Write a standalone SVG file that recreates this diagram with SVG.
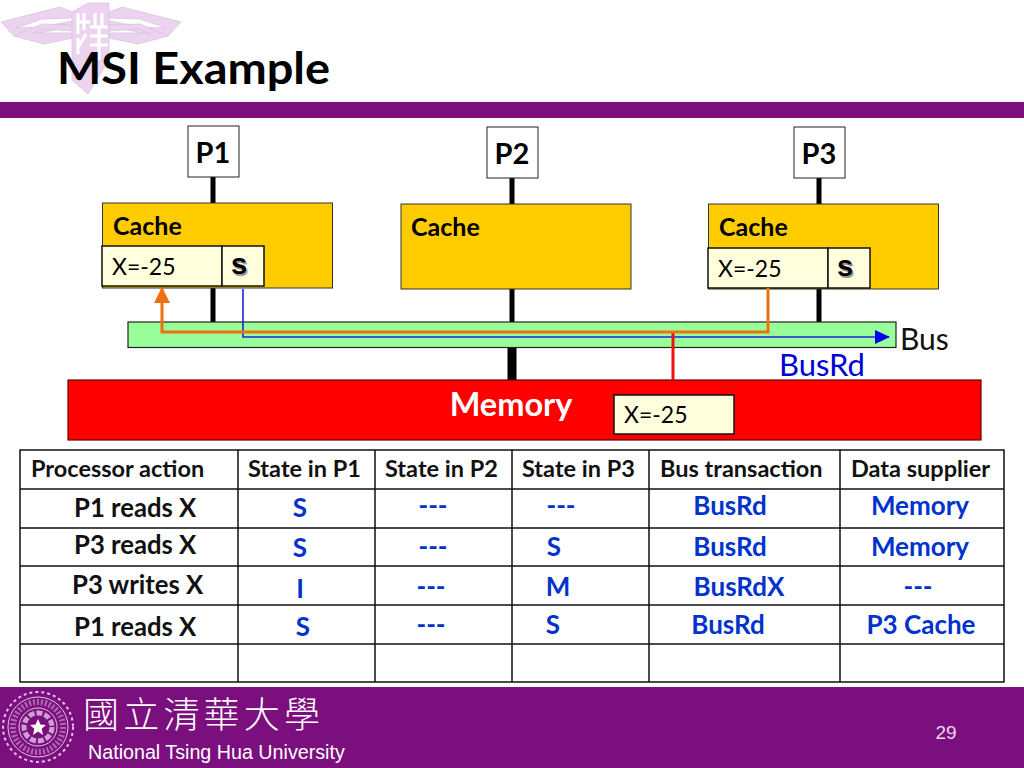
<svg xmlns="http://www.w3.org/2000/svg" width="1024" height="768" viewBox="0 0 1024 768">
<style>
text{font-family:"Lato","Liberation Sans",sans-serif}
.cache{fill:#ffcc00;stroke:#333;stroke-width:1}
.cell{fill:#ffffdd;stroke:#111;stroke-width:1.5}
.p{fill:#fff;stroke:#222;stroke-width:1}
.nm{font-size:29px;font-weight:700;fill:#000}
.ch{font-size:25px;font-weight:700;fill:#000}
.x{font-size:23px;fill:#000}
.s{font-size:29px;font-weight:700;fill:#000;font-family:"Liberation Sans",sans-serif;text-anchor:middle}
.sh{fill:#999}
.h{font-size:23.500px;font-weight:700;fill:#111}
.t{font-size:25.700px;font-weight:700;fill:#111}
.u{font-size:26px;font-weight:700;fill:#0033cc;text-anchor:middle}
.bar{stroke:#000;stroke-width:5;fill:none}
.grid{stroke:#111;stroke-width:1.5;fill:none}
</style>
<defs>
<marker id="mb" markerUnits="userSpaceOnUse" markerWidth="15" markerHeight="14" refX="14" refY="7" orient="auto"><path d="M0 0L15 7L0 14Z" fill="#0000ee"/></marker>
<marker id="mo" markerUnits="userSpaceOnUse" markerWidth="16" markerHeight="16" refX="15" refY="8" orient="auto"><path d="M0 0L16 8L0 16Z" fill="#f07010"/></marker>
</defs>
<rect width="1024" height="768" fill="#fff"/>
<g id="logo" fill="#ecd4f0" stroke="#d9c3dd" stroke-width="0.8">
<path d="M1 22L60 7L73 12V18L42 19L16 28L40 27L73 21V26L40 33L14 36Z"/>
<path d="M181 22L122 7L109 12V18L140 19L166 28L142 27L109 21V26L142 33L168 36Z"/>
<path d="M14 36L42 24L73 25V31L44 29L32 33L73 33V38L44 44Z"/>
<path d="M168 36L140 24L109 25V31L138 29L150 33L109 33V38L138 44Z"/>
<path d="M72 12L88 3H109V58L104 68L88 94L72 80Z"/>
<path d="M78 13V34M84 13V30M78 22H90M95 13V26M102 13V26M90 27H108M90 36H108M78 38V54M86 34L78 48M90 45H108M99 27V60" stroke="#fff" stroke-width="3" fill="none"/>
</g>
<text id="title" x="57" y="84" font-size="44" font-weight="700" fill="#000" textLength="273" lengthAdjust="spacingAndGlyphs">MSI Example</text>
<rect id="topband" x="0" y="102" width="1024" height="16" fill="#7b0f7e"/>
<g id="connectors">
<path class="bar" d="M213 177V203M512 178V204M819 178V204M213 288V322M512 289V322M819 289V322"/>
<path d="M512 347V380" stroke="#000" stroke-width="9" fill="none"/>
</g>
<g id="P1"><rect class="p" x="188" y="126" width="51" height="51"/><text class="nm" x="213" y="163" text-anchor="middle">P1</text></g>
<g id="P2"><rect class="p" x="487" y="127" width="51" height="51"/><text class="nm" x="512" y="164" text-anchor="middle">P2</text></g>
<g id="P3"><rect class="p" x="794" y="127" width="51" height="51"/><text class="nm" x="819" y="164" text-anchor="middle">P3</text></g>
<g id="cache1"><rect class="cache" x="102.500" y="203" width="230" height="85"/><text class="ch" x="113" y="235">Cache</text>
<rect class="cell" x="102" y="246" width="120" height="40"/><rect class="cell" x="222" y="246" width="42" height="40"/>
<text class="x" x="112" y="275">X=-25</text><text class="s sh" x="240.500" y="275.500">s</text><text class="s" x="239" y="274">s</text></g>
<g id="cache2"><rect class="cache" x="401" y="204" width="230" height="85"/><text class="ch" x="411" y="236">Cache</text></g>
<g id="cache3"><rect class="cache" x="708.500" y="204" width="230" height="85"/><text class="ch" x="719" y="236">Cache</text>
<rect class="cell" x="708" y="248" width="120" height="40"/><rect class="cell" x="828" y="248" width="42" height="40"/>
<text class="x" x="718" y="277">X=-25</text><text class="s sh" x="846.500" y="277.500">s</text><text class="s" x="845" y="276">s</text></g>
<g id="bus"><rect x="128" y="322" width="768" height="25.500" fill="#99ff99" stroke="#222" stroke-width="1.2"/>
<text x="900" y="350" font-size="30" fill="#111">Bus</text></g>
<g id="memory"><rect x="68" y="380" width="913" height="60" fill="#ff0000" stroke="#660000" stroke-width="1.2"/>
<text x="511" y="416" font-size="32.500" font-weight="700" fill="#fff" text-anchor="middle">Memory</text>
<rect class="cell" x="614" y="395" width="120" height="39"/><text class="x" x="624" y="423">X=-25</text></g>
<g id="signals">
<path d="M243 289V337H889" stroke="#2222dd" stroke-width="1.6" fill="none" marker-end="url(#mb)"/>
<path d="M673 333V380" stroke="#ee1111" stroke-width="3" fill="none"/>
<path d="M768 288V332H162V288" stroke="#f07010" stroke-width="3" fill="none" marker-end="url(#mo)"/>
<text x="779" y="376" font-size="31" fill="#0000dd">BusRd</text>
</g>
<g id="table">
<path class="grid" d="M20 450H1004V682H20ZM20 489H1004M20 528H1004M20 566H1004M20 605H1004M20 644H1004M238 450V682M375 450V682M512 450V682M649 450V682M840 450V682"/>
<text class="h" x="31" y="477">Processor action</text>
<text class="h" x="248" y="477">State in P1</text>
<text class="h" x="385" y="477">State in P2</text>
<text class="h" x="522" y="477">State in P3</text>
<text class="h" x="660" y="477">Bus transaction</text>
<text class="h" x="851" y="477">Data supplier</text>
<text class="t" x="74" y="516.500">P1 reads X</text>
<text class="t" x="74" y="553.500">P3 reads X</text>
<text class="t" x="72" y="593.500">P3 writes X</text>
<text class="t" x="74" y="635.500">P1 reads X</text>
<text class="u" x="300" y="517">S</text><text class="u" x="433" y="515">---</text><text class="u" x="561" y="515">---</text><text class="u" x="730" y="515">BusRd</text><text class="u" x="920" y="515">Memory</text>
<text class="u" x="300" y="557">S</text><text class="u" x="433" y="556">---</text><text class="u" x="554" y="556">S</text><text class="u" x="730" y="556">BusRd</text><text class="u" x="920" y="556">Memory</text>
<text class="u" x="300" y="598">I</text><text class="u" x="431" y="596">---</text><text class="u" x="558" y="596">M</text><text class="u" x="739" y="596">BusRdX</text><text class="u" x="918" y="596">---</text>
<text class="u" x="303" y="636">S</text><text class="u" x="431" y="634">---</text><text class="u" x="553" y="634">S</text><text class="u" x="728" y="634">BusRd</text><text class="u" x="921" y="634">P3 Cache</text>
</g>
<g id="footer">
<rect x="0" y="687" width="1024" height="81" fill="#7b0f7e"/>
<g id="seal" fill="none" stroke="#e3c4e6">
<circle cx="38" cy="727" r="35" stroke-width="2" stroke-dasharray="3 3"/>
<circle cx="38" cy="727" r="30" stroke-width="1"/>
<circle cx="38" cy="727" r="19" stroke-width="1"/>
<circle cx="38" cy="727" r="14" stroke-width="5" stroke-dasharray="6 2" opacity="0.8"/>
<circle cx="38" cy="727" r="25" stroke-width="6" stroke-dasharray="2 2" opacity="0.5"/>
<path d="M38 719L40.400 724.600L46 725L41.700 728.800L43 735L38 731.500L33 735L34.300 728.800L30 725L35.600 724.600Z" fill="#fff" stroke="none"/>
</g>
<text x="83" y="728" font-size="36" fill="#fff" style="font-family:'Noto Sans CJK TC','Noto Sans CJK SC',sans-serif" font-weight="300" textLength="237">國立清華大學</text>
<text x="88" y="759" font-size="19.700" fill="#fff" style="font-family:'Liberation Sans',sans-serif">National Tsing Hua University</text>
<text x="946" y="739" font-size="19" fill="#e8d8ea" text-anchor="middle" style="font-family:'Liberation Sans',sans-serif">29</text>
</g>
</svg>
